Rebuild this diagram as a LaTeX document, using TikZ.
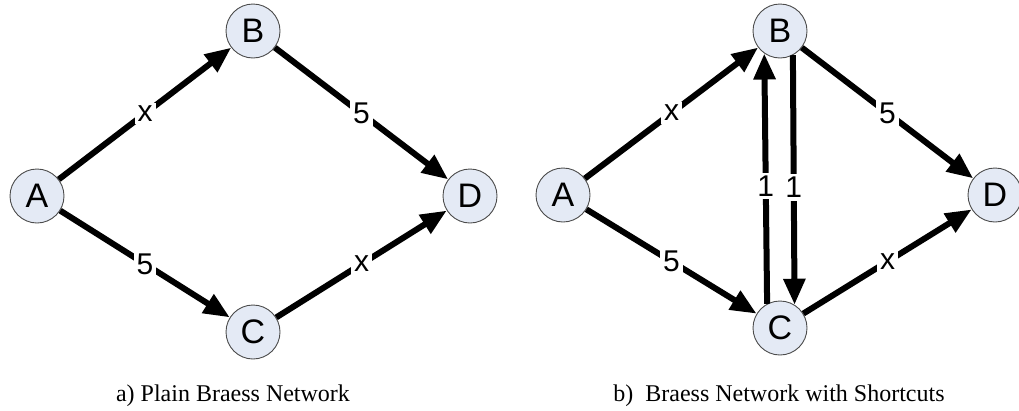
\documentclass[tikz,border=0pt]{standalone}
\usepackage{fontspec}
\setmainfont{Liberation Serif}
\setsansfont{Liberation Sans}
\usetikzlibrary{arrows.meta, positioning}
\definecolor{cityfill}{RGB}{228,234,245}

\begin{document}
\begin{tikzpicture}[x=1pt, y=-1pt,
    city/.style={circle, draw=black!70, line width=0.9pt, fill=cityfill, minimum size=54pt, inner sep=0pt, font=\sffamily\fontsize{34}{34}\selectfont},
    road/.style={line width=6pt, -{Triangle[length=26pt, width=21pt]}},
    cost/.style={fill=white, inner sep=3pt, font=\sffamily\fontsize{30}{30}\selectfont},
    caption/.style={anchor=base, font=\fontsize{24}{24}\selectfont}]
\useasboundingbox (0,0) rectangle (1019,410);

% Plain network
\node[city] (A1) at (37,196) {A};
\node[city] (B1) at (253,31) {B};
\node[city] (C1) at (253,332) {C};
\node[city] (D1) at (470,196) {D};

\draw[road] (A1) -- (B1) node[cost, midway] {x};
\draw[road] (B1) -- (D1) node[cost, midway] {5};
\draw[road] (A1) -- (C1) node[cost, midway] {5};
\draw[road] (C1) -- (D1) node[cost, midway] {x};

\node[caption] (capA) at (233,401) {a) Plain Braess Network};

% Network with shortcuts
\node[city] (A2) at (563,195) {A};
\node[city] (B2) at (780,31) {B};
\node[city] (C2) at (780,328) {C};
\node[city] (D2) at (995,195) {D};

\draw[road] (A2) -- (B2) node[cost, midway] {x};
\draw[road] (B2) -- (D2) node[cost, midway] {5};
\draw[road] (A2) -- (C2) node[cost, midway] {5};
\draw[road] (C2) -- (D2) node[cost, midway] {x};

% Shortcuts between B and C
\draw[road] (C2.118) -- (B2.-125) node[cost, pos=0.47] {1};
\draw[road] (B2.-62) -- (C2.58) node[cost, pos=0.53] {1};

\node[caption] (capB) at (779,401) {b)~ Braess Network with Shortcuts};

\end{tikzpicture}
\end{document}
